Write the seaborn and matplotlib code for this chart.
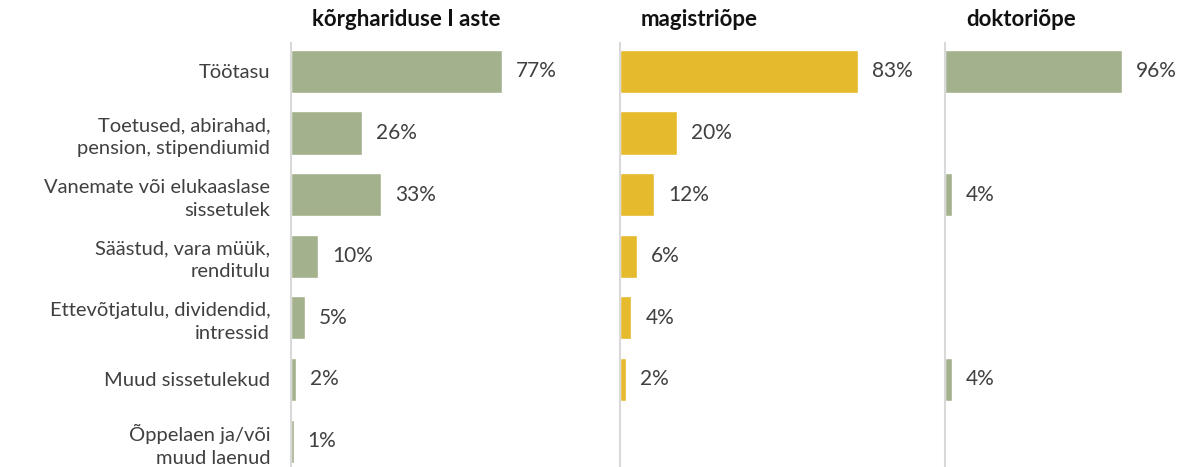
"""
Sissetulekuallikad õppeastme järgi - horisontaalsed tulbad kolmes paneelis.
"""
import numpy as np
import pandas as pd
import matplotlib
matplotlib.use("Agg")
import matplotlib.pyplot as plt
import seaborn as sns

categories = [
    "Töötasu",
    "Toetused, abirahad,\npension, stipendiumid",
    "Vanemate või elukaaslase\nsissetulek",
    "Säästud, vara müük,\nrenditulu",
    "Ettevõtjatulu, dividendid,\nintressid",
    "Muud sissetulekud",
    "Õppelaen ja/või\nmuud laenud",
]
panel_titles = ["kõrghariduse I aste", "magistriõpe", "doktoriõpe"]
kõrg_I_aste = [77, 26, 33, 10, 5, 2, 1]
magistriõpe = [83, 20, 12, 6, 4, 2, np.nan]
doktoriõpe = [96, np.nan, 4, np.nan, np.nan, 4, np.nan]

green = "#A3B18C"
yellow = "#E5BA2C"
text_col = "#404040"
axis_col = "#D9D9D9"

sns.set_theme(style="white")
plt.rcParams["font.family"] = ["Lato", "DejaVu Sans"]

W, H = 1186, 467
fig = plt.figure(figsize=(W / 100, H / 100), dpi=100)

# (left px, width px, xmax, colour, values)
panels = [
    (291, 309, 113.0, green, kõrg_I_aste),
    (620, 305, 106.4, yellow, magistriõpe),
    (945, 241, 130.7, green, doktoriõpe),
]
top_px = 43
for i, (left, width, xmax, col, vals) in enumerate(panels):
    ax = fig.add_axes([left / W, 0, width / W, (H - top_px) / H])
    df = pd.DataFrame({"cat": categories, "val": vals}).dropna()
    sns.barplot(data=df, x="val", y="cat", order=categories, color=col,
                width=0.7, saturation=1, ax=ax)
    ax.set_xlim(0, xmax)
    ax.set_ylim(6.42, -0.46)
    for c in ax.containers:
        ax.bar_label(c, fmt="%.0f%%", padding=10, fontsize=15, color=text_col)
    ax.set_xlabel("")
    ax.set_ylabel("")
    ax.set_xticks([])
    for s in ["top", "right", "bottom"]:
        ax.spines[s].set_visible(False)
    ax.spines["left"].set_color(axis_col)
    ax.spines["left"].set_linewidth(1.5)
    ax.tick_params(axis="y", length=0, pad=15)
    if i == 0:
        ax.set_yticks(range(len(categories)))
        ax.set_yticklabels(categories, fontsize=14.5, color=text_col,
                           multialignment="right", linespacing=1.4)
    else:
        ax.set_yticks([])
    fig.text((left + 21) / W, 1 - 19 / H, panel_titles[i], ha="left",
             va="center", fontsize=16, fontweight="bold", color="#111111")

fig.savefig("out.png", dpi=100, facecolor="white")
